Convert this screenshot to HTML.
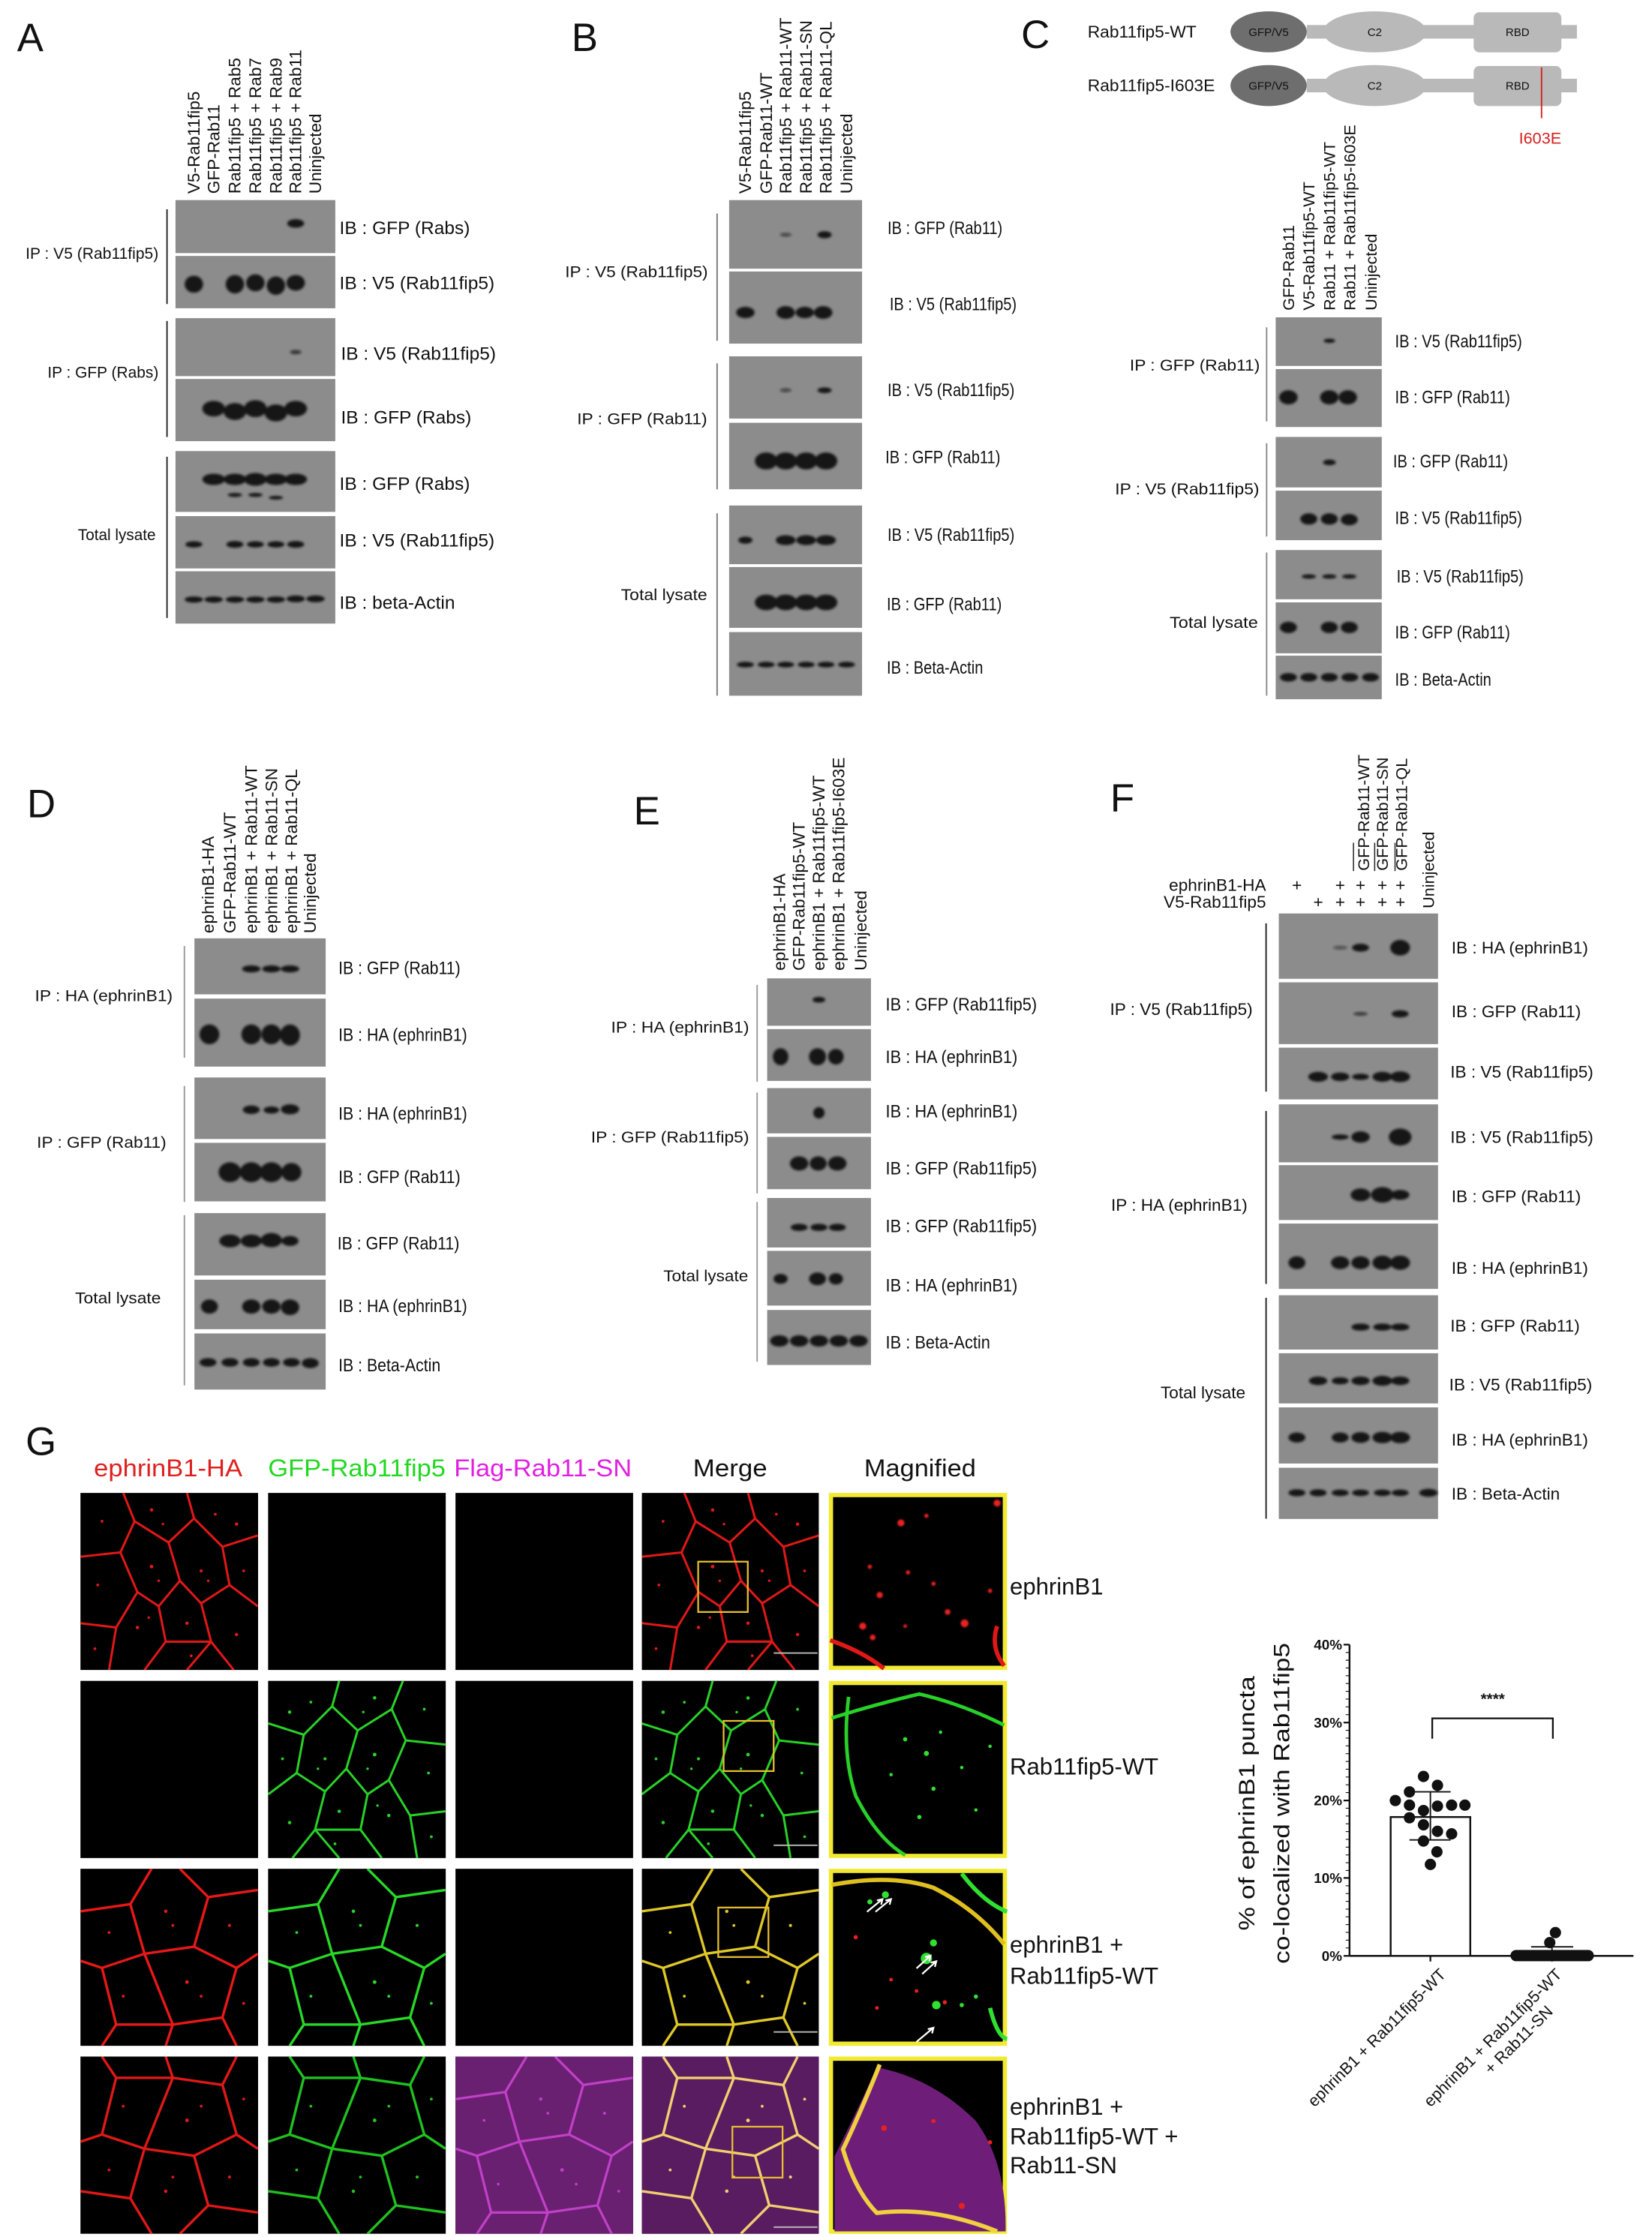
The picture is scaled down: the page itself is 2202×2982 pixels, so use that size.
<!DOCTYPE html>
<html><head><meta charset="utf-8">
<style>
html,body{margin:0;padding:0;background:#fff;}
svg{display:block;}
text{font-family:"Liberation Sans",Arial,sans-serif;fill:#111;}
.ib{font-size:13px;}
.cl{font-size:12px;}
.pl{font-size:28px;}
.bl{fill:#8c8c8c;}
.bd ellipse{fill:#141414;}
</style></head>
<body>
<svg width="2202" height="2982" viewBox="0 0 1168 1582" xmlns="http://www.w3.org/2000/svg">
<defs>
<filter id="bl1" x="-50%" y="-50%" width="200%" height="200%"><feGaussianBlur stdDeviation="0.9"/></filter>
<filter id="bl2" x="-20%" y="-20%" width="140%" height="140%"><feGaussianBlur stdDeviation="0.5"/></filter>
<symbol id="c1" viewBox="0 0 125 125" overflow="hidden">
<path fill="none" stroke="currentColor" stroke-width="1.6" stroke-linejoin="round" d="M0,45 L28,42 L38,20 L30,0 M38,20 L62,35 L80,18 L75,0 M80,18 L100,38 L125,30 M28,42 L40,70 L25,95 L0,92 M40,70 L55,80 L70,62 L62,35 M70,62 L85,78 L105,65 L100,38 M105,65 L125,80 M55,80 L60,105 L45,125 M25,95 L20,125 M85,78 L92,105 L75,125 M92,105 L108,125 M60,105 L92,105"/>
<g fill="currentColor"><circle cx="15" cy="20" r="1"/><circle cx="50" cy="12" r="1.2"/><circle cx="58" cy="22" r=".9"/><circle cx="95" cy="15" r="1"/><circle cx="110" cy="22" r="1.2"/><circle cx="12" cy="65" r="1"/><circle cx="50" cy="52" r="1.3"/><circle cx="55" cy="62" r=".9"/><circle cx="85" cy="55" r="1.1"/><circle cx="90" cy="62" r=".9"/><circle cx="115" cy="55" r="1"/><circle cx="40" cy="95" r="1.2"/><circle cx="48" cy="88" r=".9"/><circle cx="75" cy="92" r="1.2"/><circle cx="78" cy="115" r="1"/><circle cx="110" cy="100" r="1.2"/><circle cx="10" cy="110" r="1"/></g>
</symbol>
<symbol id="c2" viewBox="0 0 125 125" overflow="hidden">
<path fill="none" stroke="currentColor" stroke-width="1.8" stroke-linejoin="round" d="M0,30 L35,25 L50,0 M35,25 L45,60 L15,70 L0,65 M45,60 L80,55 L90,20 L70,0 M90,20 L125,15 M80,55 L110,70 L125,60 M110,70 L100,105 L110,125 M100,105 L65,110 L45,60 M65,110 L60,125 M15,70 L25,110 L15,125 M25,110 L65,110"/>
<g fill="currentColor"><circle cx="20" cy="45" r="1"/><circle cx="60" cy="30" r="1.2"/><circle cx="65" cy="40" r="1"/><circle cx="105" cy="40" r="1.1"/><circle cx="30" cy="90" r="1"/><circle cx="75" cy="80" r="1.3"/><circle cx="85" cy="90" r="1"/><circle cx="115" cy="95" r="1"/></g>
</symbol>
</defs>

<!-- ===== Panel A ===== -->
<text class="pl" x="12" y="36">A</text>
<g class="cl">
<text transform="translate(141,137) rotate(-90)">V5-Rab11fip5</text>
<text transform="translate(155,137) rotate(-90)">GFP-Rab11</text>
<text transform="translate(170,137) rotate(-90)">Rab11fip5 + Rab5</text>
<text transform="translate(184.5,137) rotate(-90)">Rab11fip5 + Rab7</text>
<text transform="translate(199,137) rotate(-90)">Rab11fip5 + Rab9</text>
<text transform="translate(213,137) rotate(-90)">Rab11fip5 + Rab11</text>
<text transform="translate(227,137) rotate(-90)">Uninjected</text>
</g>
<g class="bl">
<rect x="124" y="141.5" width="113" height="37.5"/><rect x="124" y="181" width="113" height="37"/>
<rect x="124" y="225" width="113" height="41"/><rect x="124" y="268" width="113" height="44"/>
<rect x="124" y="319" width="113" height="43"/><rect x="124" y="365" width="113" height="37"/>
<rect x="124" y="404" width="113" height="37"/>
</g>
<g class="bd" filter="url(#bl1)">
<ellipse cx="209" cy="158" rx="6" ry="3"/>
<ellipse cx="137" cy="201" rx="6.5" ry="6"/><ellipse cx="166" cy="201" rx="6.5" ry="6.5"/><ellipse cx="180.5" cy="200" rx="6.5" ry="6"/><ellipse cx="195" cy="202" rx="6.5" ry="6.5"/><ellipse cx="209" cy="200" rx="6.5" ry="5.5"/>
<ellipse cx="209" cy="249" rx="4" ry="1.5" opacity=".7"/>
<ellipse cx="151" cy="289" rx="8" ry="5.5"/><ellipse cx="166" cy="291" rx="8" ry="6"/><ellipse cx="180.5" cy="289" rx="8" ry="6"/><ellipse cx="195" cy="292" rx="8" ry="6"/><ellipse cx="209" cy="289" rx="8" ry="5.5"/>
<ellipse cx="151" cy="339" rx="8" ry="4"/><ellipse cx="166" cy="339" rx="8" ry="4"/><ellipse cx="180.5" cy="339" rx="8" ry="4.5"/><ellipse cx="195" cy="339" rx="8" ry="4"/><ellipse cx="209" cy="339" rx="8" ry="4"/>
<ellipse cx="166" cy="350" rx="5" ry="1.4"/><ellipse cx="180.5" cy="350" rx="5" ry="1.4"/><ellipse cx="195" cy="352" rx="5" ry="1.3"/>
<ellipse cx="137" cy="385" rx="6" ry="2.2"/><ellipse cx="166" cy="385" rx="6" ry="2.4"/><ellipse cx="180.5" cy="385" rx="6" ry="2.2"/><ellipse cx="195" cy="385" rx="6" ry="2.2"/><ellipse cx="209" cy="385" rx="6" ry="2.4"/>
<ellipse cx="137" cy="424" rx="6.5" ry="2.2"/><ellipse cx="151" cy="424" rx="6.5" ry="2.2"/><ellipse cx="166" cy="424" rx="6.5" ry="2.2"/><ellipse cx="180.5" cy="424" rx="6.5" ry="2.2"/><ellipse cx="195" cy="424" rx="6.5" ry="2.2"/><ellipse cx="209" cy="423.5" rx="6.5" ry="2.4"/><ellipse cx="223" cy="423.5" rx="6.5" ry="2.4"/>
</g>
<g class="ib">
<text x="240" y="165.5">IB : GFP (Rabs)</text>
<text x="240" y="204.5">IB : V5 (Rab11fip5)</text>
<text x="241" y="254.5">IB : V5 (Rab11fip5)</text>
<text x="241" y="299.5">IB : GFP (Rabs)</text>
<text x="240" y="346.5">IB : GFP (Rabs)</text>
<text x="240" y="386.5">IB : V5 (Rab11fip5)</text>
<text x="240" y="430.5">IB : beta-Actin</text>
</g>
<g font-size="11.5">
<text x="18" y="183" textLength="94" lengthAdjust="spacingAndGlyphs">IP : V5 (Rab11fip5)</text>
<text x="33.5" y="267" textLength="78.5" lengthAdjust="spacingAndGlyphs">IP : GFP (Rabs)</text>
<text x="55" y="382" textLength="55" lengthAdjust="spacingAndGlyphs">Total lysate</text>
</g>
<g stroke="#222" stroke-width="1"><line x1="118" y1="148" x2="118" y2="215"/><line x1="118" y1="227" x2="118" y2="309"/><line x1="118" y1="323" x2="118" y2="437"/></g>

<!-- ===== Panel B ===== -->
<text class="pl" x="404" y="36">B</text>
<g class="cl">
<text transform="translate(531,137) rotate(-90)">V5-Rab11fip5</text>
<text transform="translate(545.7,137) rotate(-90)">GFP-Rab11-WT</text>
<text transform="translate(559.5,137) rotate(-90)">Rab11fip5 + Rab11-WT</text>
<text transform="translate(574,137) rotate(-90)">Rab11fip5 + Rab11-SN</text>
<text transform="translate(588,137) rotate(-90)">Rab11fip5 + Rab11-QL</text>
<text transform="translate(602.5,137) rotate(-90)">Uninjected</text>
</g>
<g class="bl">
<rect x="515.5" y="141.5" width="94" height="48.5"/><rect x="515.5" y="192" width="94" height="51"/>
<rect x="515.5" y="252" width="94" height="44"/><rect x="515.5" y="299" width="94" height="47"/>
<rect x="515.5" y="357.5" width="94" height="41.5"/><rect x="515.5" y="401" width="94" height="43"/>
<rect x="515.5" y="447" width="94" height="45"/>
</g>
<g class="bd" filter="url(#bl1)">
<ellipse cx="555.5" cy="166" rx="4" ry="1.3" opacity=".6"/><ellipse cx="583" cy="166" rx="5" ry="2.5"/>
<ellipse cx="527" cy="221" rx="6.5" ry="4"/><ellipse cx="555.5" cy="221" rx="6.5" ry="4.5"/><ellipse cx="569" cy="221" rx="6.5" ry="4"/><ellipse cx="582" cy="221" rx="6.5" ry="4.5"/>
<ellipse cx="555.5" cy="276" rx="4" ry="1.3" opacity=".6"/><ellipse cx="583" cy="276" rx="5" ry="2"/>
<ellipse cx="541.7" cy="326" rx="8" ry="6"/><ellipse cx="555.5" cy="326" rx="8" ry="6"/><ellipse cx="570" cy="326" rx="8" ry="6"/><ellipse cx="584" cy="326" rx="8" ry="6"/>
<ellipse cx="527" cy="382" rx="5" ry="2.5"/><ellipse cx="555.5" cy="382" rx="7" ry="3.5"/><ellipse cx="570" cy="382" rx="7" ry="3.5"/><ellipse cx="584" cy="382" rx="7" ry="3.5"/>
<ellipse cx="541.7" cy="426" rx="8" ry="5.5"/><ellipse cx="555.5" cy="426" rx="8" ry="5.5"/><ellipse cx="570" cy="426" rx="8" ry="5.5"/><ellipse cx="584" cy="426" rx="8" ry="5.5"/>
<ellipse cx="527" cy="470" rx="6" ry="2"/><ellipse cx="541.7" cy="470" rx="6" ry="2"/><ellipse cx="555.5" cy="470" rx="6" ry="2"/><ellipse cx="570" cy="470" rx="6" ry="2"/><ellipse cx="584" cy="470" rx="6" ry="2"/><ellipse cx="598.5" cy="470" rx="6" ry="2"/>
</g>
<g class="ib">
<text transform="translate(627.5,165.5) scale(.82 1)">IB : GFP (Rab11)</text>
<text transform="translate(629,219.5) scale(.82 1)">IB : V5 (Rab11fip5)</text>
<text transform="translate(627.5,280) scale(.82 1)">IB : V5 (Rab11fip5)</text>
<text transform="translate(626,327.5) scale(.82 1)">IB : GFP (Rab11)</text>
<text transform="translate(627.5,382.5) scale(.82 1)">IB : V5 (Rab11fip5)</text>
<text transform="translate(627,431.5) scale(.82 1)">IB : GFP (Rab11)</text>
<text transform="translate(627,476.5) scale(.82 1)">IB : Beta-Actin</text>
</g>
<g font-size="11.5">
<text x="399.5" y="196" textLength="101" lengthAdjust="spacingAndGlyphs">IP : V5 (Rab11fip5)</text>
<text x="408" y="300" textLength="92" lengthAdjust="spacingAndGlyphs">IP : GFP (Rab11)</text>
<text x="439" y="424.5" textLength="61" lengthAdjust="spacingAndGlyphs">Total lysate</text>
</g>
<g stroke="#777" stroke-width="1"><line x1="507" y1="151" x2="507" y2="241"/><line x1="507" y1="257" x2="507" y2="346"/><line x1="507" y1="363" x2="507" y2="492"/></g>

<!-- ===== Panel C ===== -->
<text class="pl" x="722" y="34">C</text>
<g font-size="12">
<text x="769" y="26.5" textLength="77" lengthAdjust="spacingAndGlyphs">Rab11fip5-WT</text>
<text x="769" y="64.5" textLength="90" lengthAdjust="spacingAndGlyphs">Rab11fip5-I603E</text>
</g>
<rect x="924" y="17.7" width="191" height="9.6" fill="#b9b9b9"/>
<rect x="1042" y="8.7" width="62" height="28.3" rx="4" fill="#b9b9b9"/>
<ellipse cx="972" cy="22.5" rx="36.5" ry="14.5" fill="#b9b9b9"/>
<ellipse cx="897" cy="22.5" rx="27" ry="14.5" fill="#6e6e6e"/>
<rect x="924" y="55.7" width="191" height="9.6" fill="#b9b9b9"/>
<rect x="1042" y="46.7" width="62" height="28.3" rx="4" fill="#b9b9b9"/>
<ellipse cx="972" cy="60.5" rx="36.5" ry="14.5" fill="#b9b9b9"/>
<ellipse cx="897" cy="60.5" rx="27" ry="14.5" fill="#6e6e6e"/>
<g font-size="8" text-anchor="middle" fill="#222">
<text x="897" y="25.5">GFP/V5</text><text x="972" y="25.5">C2</text><text x="1073" y="25.5">RBD</text>
<text x="897" y="63.5">GFP/V5</text><text x="972" y="63.5">C2</text><text x="1073" y="63.5">RBD</text>
</g>
<line x1="1090" y1="47.6" x2="1090" y2="83.6" stroke="#d42020" stroke-width="1"/>
<text x="1074" y="101.5" font-size="11.5" style="fill:#d42020" textLength="30" lengthAdjust="spacingAndGlyphs">I603E</text>
<g font-size="11.5">
<text transform="translate(915,219.6) rotate(-90)">GFP-Rab11</text>
<text transform="translate(929.4,219.6) rotate(-90)">V5-Rab11fip5-WT</text>
<text transform="translate(943.9,219.6) rotate(-90)">Rab11 + Rab11fip5-WT</text>
<text transform="translate(958.4,219.6) rotate(-90)">Rab11 + Rab11fip5-I603E</text>
<text transform="translate(973.3,219.6) rotate(-90)">Uninjected</text>
</g>
<g class="bl">
<rect x="902" y="224.4" width="75" height="34.4"/><rect x="902" y="261" width="75" height="41"/>
<rect x="902" y="309" width="75" height="35.7"/><rect x="902" y="347" width="75" height="35"/>
<rect x="902" y="389" width="75" height="34.8"/><rect x="902" y="426" width="75" height="36"/>
<rect x="902" y="463.7" width="75" height="30.8"/>
</g>
<g class="bd" filter="url(#bl1)">
<ellipse cx="940" cy="241" rx="4" ry="1.5"/>
<ellipse cx="911" cy="281" rx="6.5" ry="5"/><ellipse cx="939.9" cy="281" rx="6.5" ry="5"/><ellipse cx="953" cy="281" rx="6.5" ry="5"/>
<ellipse cx="940" cy="327" rx="4.5" ry="2"/>
<ellipse cx="925.4" cy="367" rx="6" ry="4"/><ellipse cx="939.9" cy="367" rx="6" ry="4"/><ellipse cx="954" cy="367.5" rx="6" ry="4"/>
<ellipse cx="925.4" cy="407.7" rx="5" ry="1.5"/><ellipse cx="939.9" cy="407.7" rx="5" ry="1.5"/><ellipse cx="954" cy="407.7" rx="5" ry="1.5"/>
<ellipse cx="911" cy="443.7" rx="6" ry="4"/><ellipse cx="939.9" cy="443.7" rx="6" ry="4"/><ellipse cx="954" cy="443.7" rx="6" ry="4"/>
<ellipse cx="911" cy="479" rx="6" ry="3"/><ellipse cx="925.4" cy="479" rx="6" ry="3"/><ellipse cx="939.9" cy="479" rx="6" ry="3"/><ellipse cx="954.4" cy="479" rx="6" ry="3"/><ellipse cx="969" cy="479" rx="6" ry="3"/>
</g>
<g class="ib">
<text transform="translate(986.4,245.5) scale(.82 1)">IB : V5 (Rab11fip5)</text>
<text transform="translate(986.4,285.2) scale(.82 1)">IB : GFP (Rab11)</text>
<text transform="translate(985,330.5) scale(.82 1)">IB : GFP (Rab11)</text>
<text transform="translate(986.4,370.5) scale(.82 1)">IB : V5 (Rab11fip5)</text>
<text transform="translate(987.5,412) scale(.82 1)">IB : V5 (Rab11fip5)</text>
<text transform="translate(986.4,451.5) scale(.82 1)">IB : GFP (Rab11)</text>
<text transform="translate(986.4,485) scale(.82 1)">IB : Beta-Actin</text>
</g>
<g font-size="11.5">
<text x="798.8" y="262" textLength="92" lengthAdjust="spacingAndGlyphs">IP : GFP (Rab11)</text>
<text x="788.4" y="349.7" textLength="102" lengthAdjust="spacingAndGlyphs">IP : V5 (Rab11fip5)</text>
<text x="827" y="444" textLength="62.5" lengthAdjust="spacingAndGlyphs">Total lysate</text>
</g>
<g stroke="#888" stroke-width="1"><line x1="895.6" y1="231.5" x2="895.6" y2="298"/><line x1="895.6" y1="313.5" x2="895.6" y2="379.4"/><line x1="895.6" y1="390.7" x2="895.6" y2="492"/></g>

<!-- ===== Panel D ===== -->
<text class="pl" x="19" y="578">D</text>
<g class="cl">
<text transform="translate(151,660) rotate(-90)">ephrinB1-HA</text>
<text transform="translate(166.5,660) rotate(-90)">GFP-Rab11-WT</text>
<text transform="translate(181.6,660) rotate(-90)">ephrinB1 + Rab11-WT</text>
<text transform="translate(195.8,660) rotate(-90)">ephrinB1 + Rab11-SN</text>
<text transform="translate(210,660) rotate(-90)">ephrinB1 + Rab11-QL</text>
<text transform="translate(223.3,660) rotate(-90)">Uninjected</text>
</g>
<g class="bl">
<rect x="137.4" y="663.6" width="92.8" height="39.6"/><rect x="137.4" y="706.2" width="92.8" height="48.1"/>
<rect x="137.4" y="762" width="92.8" height="43.5"/><rect x="137.4" y="808.2" width="92.8" height="41.4"/>
<rect x="137.4" y="857.9" width="92.8" height="44.1"/><rect x="137.4" y="905" width="92.8" height="35"/>
<rect x="137.4" y="943" width="92.8" height="39.7"/>
</g>
<g class="bd" filter="url(#bl1)">
<ellipse cx="177.6" cy="685.2" rx="6.5" ry="2.5"/><ellipse cx="191.8" cy="685.2" rx="6.5" ry="2.5"/><ellipse cx="205" cy="685.2" rx="6.5" ry="2.5"/>
<ellipse cx="148" cy="731.5" rx="7" ry="7"/><ellipse cx="177.6" cy="731.5" rx="7" ry="7"/><ellipse cx="191.8" cy="731.5" rx="7" ry="7"/><ellipse cx="205" cy="732" rx="7" ry="7.5"/>
<ellipse cx="177.6" cy="784.8" rx="6" ry="3"/><ellipse cx="191.8" cy="785" rx="5.5" ry="2.5"/><ellipse cx="205" cy="784.5" rx="6.5" ry="3.5"/>
<ellipse cx="162.5" cy="829" rx="8" ry="7"/><ellipse cx="177.6" cy="829" rx="8" ry="7"/><ellipse cx="191.8" cy="829" rx="8" ry="7"/><ellipse cx="206" cy="829" rx="7" ry="6.5"/>
<ellipse cx="162.5" cy="877.6" rx="7.5" ry="4.5"/><ellipse cx="177.6" cy="877.6" rx="7.5" ry="4.5"/><ellipse cx="191.8" cy="877" rx="7.5" ry="5"/><ellipse cx="205" cy="877.6" rx="6" ry="3.5"/>
<ellipse cx="148" cy="924" rx="6" ry="5"/><ellipse cx="177.6" cy="924" rx="6.5" ry="5"/><ellipse cx="191.8" cy="924" rx="6.5" ry="5"/><ellipse cx="205" cy="924.5" rx="6.5" ry="5.5"/>
<ellipse cx="147" cy="963.5" rx="6" ry="3"/><ellipse cx="162.5" cy="963.5" rx="6" ry="3"/><ellipse cx="177.6" cy="963.5" rx="6" ry="3"/><ellipse cx="191.8" cy="963.5" rx="6" ry="3"/><ellipse cx="206" cy="963.5" rx="6" ry="3"/><ellipse cx="219.3" cy="964" rx="6" ry="3.5"/>
</g>
<g class="ib">
<text transform="translate(239.2,688.8) scale(.87 1)">IB : GFP (Rab11)</text>
<text transform="translate(239.2,736) scale(.87 1)">IB : HA (ephrinB1)</text>
<text transform="translate(239.2,791.7) scale(.87 1)">IB : HA (ephrinB1)</text>
<text transform="translate(239.2,836.5) scale(.87 1)">IB : GFP (Rab11)</text>
<text transform="translate(238.5,883.7) scale(.87 1)">IB : GFP (Rab11)</text>
<text transform="translate(239.2,927.8) scale(.87 1)">IB : HA (ephrinB1)</text>
<text transform="translate(239.2,969.8) scale(.87 1)">IB : Beta-Actin</text>
</g>
<g font-size="11.5">
<text x="24.6" y="708" textLength="97.4" lengthAdjust="spacingAndGlyphs">IP : HA (ephrinB1)</text>
<text x="26" y="811.6" textLength="91.5" lengthAdjust="spacingAndGlyphs">IP : GFP (Rab11)</text>
<text x="53" y="921.8" textLength="60.7" lengthAdjust="spacingAndGlyphs">Total lysate</text>
</g>
<g stroke="#999" stroke-width="1"><line x1="130.3" y1="669" x2="130.3" y2="748"/><line x1="130.3" y1="768" x2="130.3" y2="850"/><line x1="130.3" y1="859.4" x2="130.3" y2="979.7"/></g>

<!-- ===== Panel E ===== -->
<text class="pl" x="448" y="583">E</text>
<g class="cl">
<text transform="translate(555,686.4) rotate(-90)">ephrinB1-HA</text>
<text transform="translate(569,686.4) rotate(-90)">GFP-Rab11fip5-WT</text>
<text transform="translate(583,686.4) rotate(-90)">ephrinB1 + Rab11fip5-WT</text>
<text transform="translate(597,686.4) rotate(-90)">ephrinB1 + Rab11fip5-I603E</text>
<text transform="translate(612.7,686.4) rotate(-90)">Uninjected</text>
</g>
<g class="bl">
<rect x="542.4" y="691.9" width="73.4" height="33.5"/><rect x="542.4" y="727.8" width="73.4" height="36.6"/>
<rect x="542.4" y="769.5" width="73.4" height="32"/><rect x="542.4" y="804" width="73.4" height="37"/>
<rect x="542.4" y="847.2" width="73.4" height="35"/><rect x="542.4" y="884.6" width="73.4" height="38.7"/>
<rect x="542.4" y="926.4" width="73.4" height="38.9"/>
</g>
<g class="bd" filter="url(#bl1)">
<ellipse cx="579" cy="707" rx="4.5" ry="2"/>
<ellipse cx="551.9" cy="747.3" rx="5.5" ry="6"/><ellipse cx="578" cy="747.3" rx="6" ry="6"/><ellipse cx="591" cy="747.3" rx="5.5" ry="5.5"/>
<ellipse cx="579" cy="787" rx="4" ry="4"/>
<ellipse cx="565" cy="822.8" rx="6.5" ry="5"/><ellipse cx="578.5" cy="822.8" rx="6" ry="5"/><ellipse cx="592" cy="822.8" rx="6.5" ry="5"/>
<ellipse cx="565" cy="868" rx="6" ry="2.5"/><ellipse cx="579" cy="868" rx="6" ry="2.5"/><ellipse cx="592" cy="868" rx="6" ry="2.5"/>
<ellipse cx="551.9" cy="904.4" rx="5" ry="3.5"/><ellipse cx="578" cy="904.4" rx="6" ry="4.5"/><ellipse cx="591" cy="904.4" rx="5" ry="4"/>
<ellipse cx="551" cy="948.3" rx="6.5" ry="4"/><ellipse cx="565" cy="948.3" rx="6.5" ry="4"/><ellipse cx="579" cy="948.3" rx="6.5" ry="4"/><ellipse cx="593" cy="948.3" rx="6.5" ry="4"/><ellipse cx="607" cy="948.3" rx="6.5" ry="4"/>
</g>
<g class="ib">
<text transform="translate(626.2,714.7) scale(.89 1)">IB : GFP (Rab11fip5)</text>
<text transform="translate(626.2,751.8) scale(.89 1)">IB : HA (ephrinB1)</text>
<text transform="translate(626.2,790.2) scale(.89 1)">IB : HA (ephrinB1)</text>
<text transform="translate(626.2,830.4) scale(.89 1)">IB : GFP (Rab11fip5)</text>
<text transform="translate(626.2,871.5) scale(.89 1)">IB : GFP (Rab11fip5)</text>
<text transform="translate(626.2,913.2) scale(.89 1)">IB : HA (ephrinB1)</text>
<text transform="translate(626.2,953.7) scale(.89 1)">IB : Beta-Actin</text>
</g>
<g font-size="11.5">
<text x="432" y="730.3" textLength="97.6" lengthAdjust="spacingAndGlyphs">IP : HA (ephrinB1)</text>
<text x="417.8" y="808" textLength="111.8" lengthAdjust="spacingAndGlyphs">IP : GFP (Rab11fip5)</text>
<text x="469" y="906" textLength="60" lengthAdjust="spacingAndGlyphs">Total lysate</text>
</g>
<g stroke="#999" stroke-width="1"><line x1="535.3" y1="696.5" x2="535.3" y2="765"/><line x1="535.3" y1="772.6" x2="535.3" y2="844"/><line x1="535.3" y1="850" x2="535.3" y2="963"/></g>

<!-- ===== Panel F ===== -->
<text class="pl" x="785" y="574">F</text>
<g font-size="12" text-anchor="end">
<text x="895.2" y="630">ephrinB1-HA</text>
<text x="895.2" y="642">V5-Rab11fip5</text>
</g>
<g font-size="12" text-anchor="middle">
<text x="917" y="630">+</text><text x="947.6" y="630">+</text><text x="962" y="630">+</text><text x="977.4" y="630">+</text><text x="990.2" y="630">+</text>
<text x="932.1" y="642">+</text><text x="947.6" y="642">+</text><text x="962" y="642">+</text><text x="977.4" y="642">+</text><text x="990.2" y="642">+</text>
</g>
<g font-size="11.5">
<text transform="translate(968,615.8) rotate(-90)">GFP-Rab11-WT</text>
<text transform="translate(981.4,615.8) rotate(-90)">GFP-Rab11-SN</text>
<text transform="translate(995,615.8) rotate(-90)">GFP-Rab11-QL</text>
<text transform="translate(1014,642.4) rotate(-90)">Uninjected</text>
</g>
<g stroke="#222" stroke-width=".8"><line x1="957" y1="596" x2="957" y2="616"/><line x1="972" y1="596" x2="972" y2="616"/><line x1="986.4" y1="596" x2="986.4" y2="616"/></g>
<g class="bl">
<rect x="904.2" y="646" width="112.6" height="46.2"/><rect x="904.2" y="694.7" width="112.6" height="43.7"/>
<rect x="904.2" y="740.9" width="112.6" height="36.6"/><rect x="904.2" y="781" width="112.6" height="41"/>
<rect x="904.2" y="824" width="112.6" height="38.8"/><rect x="904.2" y="865.3" width="112.6" height="46.2"/>
<rect x="904.2" y="916" width="112.6" height="38.4"/><rect x="904.2" y="957" width="112.6" height="35.5"/>
<rect x="904.2" y="995.3" width="112.6" height="39.7"/><rect x="904.2" y="1038" width="112.6" height="36.2"/>
</g>
<g class="bd" filter="url(#bl1)">
<ellipse cx="947.6" cy="670.2" rx="5" ry="1.3" opacity=".5"/><ellipse cx="962" cy="670.2" rx="6" ry="2.8"/><ellipse cx="990" cy="670.2" rx="7" ry="5.5"/>
<ellipse cx="962" cy="717" rx="5" ry="1.2" opacity=".7"/><ellipse cx="990" cy="717" rx="6" ry="2.5"/>
<ellipse cx="932" cy="761.5" rx="7" ry="3.5"/><ellipse cx="947.6" cy="761.5" rx="6.5" ry="3"/><ellipse cx="962" cy="761.5" rx="6" ry="2.2"/><ellipse cx="977.4" cy="761.5" rx="7" ry="3.5"/><ellipse cx="990" cy="761.5" rx="7" ry="3.8"/>
<ellipse cx="947.6" cy="804.1" rx="6" ry="1.8"/><ellipse cx="962" cy="804.1" rx="6.5" ry="4"/><ellipse cx="990" cy="804.1" rx="8" ry="6"/>
<ellipse cx="962" cy="845" rx="7" ry="4.5"/><ellipse cx="977.4" cy="845" rx="8" ry="5.5"/><ellipse cx="990" cy="845" rx="6.5" ry="3.5"/>
<ellipse cx="917" cy="893" rx="6" ry="4.5"/><ellipse cx="947.6" cy="893" rx="6.5" ry="4.5"/><ellipse cx="962" cy="893" rx="6.5" ry="4.5"/><ellipse cx="977.4" cy="893" rx="7" ry="5"/><ellipse cx="990" cy="893" rx="7" ry="5"/>
<ellipse cx="962" cy="938.5" rx="6.5" ry="2.5"/><ellipse cx="977.4" cy="938.5" rx="6.5" ry="2.5"/><ellipse cx="990" cy="938.5" rx="6.5" ry="2.5"/>
<ellipse cx="932" cy="976.5" rx="6.5" ry="3"/><ellipse cx="947.6" cy="976.5" rx="6" ry="2.5"/><ellipse cx="962" cy="976.5" rx="6.5" ry="3"/><ellipse cx="977.4" cy="976.5" rx="7" ry="3.5"/><ellipse cx="990" cy="976.5" rx="6.5" ry="3"/>
<ellipse cx="917" cy="1016.6" rx="6" ry="3.5"/><ellipse cx="947.6" cy="1016.6" rx="6" ry="3.5"/><ellipse cx="962" cy="1016.6" rx="6.5" ry="3.8"/><ellipse cx="977.4" cy="1016.6" rx="7" ry="4"/><ellipse cx="990" cy="1016.6" rx="7" ry="4"/>
<ellipse cx="917" cy="1055.7" rx="6" ry="2.5"/><ellipse cx="932" cy="1055.7" rx="6" ry="2.5"/><ellipse cx="947.6" cy="1055.7" rx="6" ry="2.3"/><ellipse cx="962" cy="1055.7" rx="6" ry="2.3"/><ellipse cx="977.4" cy="1055.7" rx="6" ry="2.3"/><ellipse cx="990" cy="1055.7" rx="6" ry="2.3"/><ellipse cx="1010" cy="1055.7" rx="6.5" ry="2.8"/>
</g>
<g font-size="12">
<text x="1026.3" y="674.4">IB : HA (ephrinB1)</text>
<text x="1026.3" y="719.5">IB : GFP (Rab11)</text>
<text x="1025.5" y="762.2">IB : V5 (Rab11fip5)</text>
<text x="1025.5" y="808.3">IB : V5 (Rab11fip5)</text>
<text x="1026.3" y="850.2">IB : GFP (Rab11)</text>
<text x="1026.3" y="900.7">IB : HA (ephrinB1)</text>
<text x="1025.5" y="941.6">IB : GFP (Rab11)</text>
<text x="1024.7" y="983.2">IB : V5 (Rab11fip5)</text>
<text x="1026.3" y="1022.2">IB : HA (ephrinB1)</text>
<text x="1026.3" y="1060.6">IB : Beta-Actin</text>
<text x="784.8" y="717.7">IP : V5 (Rab11fip5)</text>
<text x="785.6" y="856.2">IP : HA (ephrinB1)</text>
<text x="820.6" y="988.8">Total lysate</text>
</g>
<g stroke="#222" stroke-width="1"><line x1="895.2" y1="653" x2="895.2" y2="772"/><line x1="895.2" y1="785.7" x2="895.2" y2="908"/><line x1="895.2" y1="917.8" x2="895.2" y2="1074"/></g>

<!-- ===== Panel G ===== -->
<text class="pl" x="18" y="1029">G</text>
<g font-size="17">
<text x="66.3" y="1044" style="fill:#e02020" textLength="105" lengthAdjust="spacingAndGlyphs">ephrinB1-HA</text>
<text x="189.5" y="1044" style="fill:#22d822" textLength="125.5" lengthAdjust="spacingAndGlyphs">GFP-Rab11fip5</text>
<text x="321" y="1044" style="fill:#e020e0" textLength="125.7" lengthAdjust="spacingAndGlyphs">Flag-Rab11-SN</text>
<text x="490" y="1044" textLength="52.4" lengthAdjust="spacingAndGlyphs">Merge</text>
<text x="611" y="1044" textLength="79" lengthAdjust="spacingAndGlyphs">Magnified</text>
</g>
<!-- tile backgrounds -->
<g fill="#000">
<rect x="56.8" y="1055.8" width="125.6" height="125.2"/><rect x="189.5" y="1055.8" width="125.6" height="125.2"/><rect x="322" y="1055.8" width="125.6" height="125.2"/><rect x="453.8" y="1055.8" width="125.1" height="125.2"/>
<rect x="56.8" y="1188.7" width="125.6" height="125.3"/><rect x="189.5" y="1188.7" width="125.6" height="125.3"/><rect x="322" y="1188.7" width="125.6" height="125.3"/><rect x="453.8" y="1188.7" width="125.1" height="125.3"/>
<rect x="56.8" y="1321.6" width="125.6" height="125.2"/><rect x="189.5" y="1321.6" width="125.6" height="125.2"/><rect x="322" y="1321.6" width="125.6" height="125.2"/><rect x="453.8" y="1321.6" width="125.1" height="125.2"/>
<rect x="56.8" y="1454.4" width="125.6" height="125.3"/><rect x="189.5" y="1454.4" width="125.6" height="125.3"/><rect x="322" y="1454.4" width="125.6" height="125.3"/><rect x="453.8" y="1454.4" width="125.1" height="125.3"/>
</g>
<!-- row4 magenta fills -->
<rect x="322" y="1454.4" width="125.6" height="125.3" fill="#6a2070"/>
<use href="#c2" x="322" y="1454.4" width="125.6" height="125.3" style="color:#100010"/>
<rect x="453.8" y="1454.4" width="125.1" height="125.3" fill="#5a1c60"/>
<!-- cells -->
<use href="#c1" x="56.8" y="1055.8" width="125.6" height="125.2" style="color:#e01818"/>
<use href="#c1" x="453.8" y="1055.8" width="125.1" height="125.2" style="color:#e01818"/>
<g transform="translate(315.1,1188.7) scale(-1,1)"><use href="#c1" x="0" y="0" width="125.6" height="125.3" style="color:#28d028"/></g>
<g transform="translate(578.9,1188.7) scale(-1,1)"><use href="#c1" x="0" y="0" width="125.1" height="125.3" style="color:#28d028"/></g>
<use href="#c2" x="56.8" y="1321.6" width="125.6" height="125.2" style="color:#e81818"/>
<use href="#c2" x="189.5" y="1321.6" width="125.6" height="125.2" style="color:#28d828"/>
<use href="#c2" x="453.8" y="1321.6" width="125.1" height="125.2" style="color:#e0c828"/>
<g transform="translate(56.8,1579.7) scale(1,-1)"><use href="#c2" x="0" y="0" width="125.6" height="125.3" style="color:#e01818"/></g>
<g transform="translate(189.5,1579.7) scale(1,-1)"><use href="#c2" x="0" y="0" width="125.6" height="125.3" style="color:#20c020"/></g>
<use href="#c2" x="322" y="1454.4" width="125.6" height="125.3" style="color:#c040c8"/>
<g transform="translate(453.8,1579.7) scale(1,-1)"><use href="#c2" x="0" y="0" width="125.1" height="125.3" style="color:#f0d070"/></g>
<!-- merge boxes & scale bars -->
<g fill="none" stroke="#e8c030" stroke-width="1.2">
<rect x="493.6" y="1104.4" width="35.1" height="35.6"/><rect x="511.6" y="1217" width="35.4" height="35.5"/>
<rect x="507.8" y="1349" width="35.5" height="35"/><rect x="517.8" y="1504" width="35.5" height="36"/>
</g>
<g stroke="#bbb" stroke-width="1"><line x1="547" y1="1169" x2="578" y2="1169"/><line x1="547" y1="1305" x2="578" y2="1305"/><line x1="547" y1="1437" x2="578" y2="1437"/><line x1="547" y1="1575" x2="578" y2="1575"/></g>
<!-- magnified -->
<g>
<rect x="587.5" y="1057.3" width="123" height="122.2" fill="#000" stroke="#f2ea30" stroke-width="3"/>
<path d="M587,1160 Q610,1168 625,1180 M705,1150 Q700,1165 710,1178" stroke="#e01818" stroke-width="3" fill="none"/>
<g fill="#e82020" filter="url(#bl2)"><circle cx="637" cy="1077" r="2.5"/><circle cx="655" cy="1072" r="1.5"/><circle cx="705" cy="1063" r="2.5"/><circle cx="615" cy="1108" r="1.5"/><circle cx="622" cy="1128" r="2.2"/><circle cx="642" cy="1112" r="1.5"/><circle cx="660" cy="1120" r="1.5"/><circle cx="670" cy="1140" r="2"/><circle cx="682" cy="1148" r="2.8"/><circle cx="610" cy="1150" r="2.5"/><circle cx="617" cy="1158" r="2"/><circle cx="700" cy="1125" r="1.5"/><circle cx="640" cy="1150" r="1.3"/></g>
<rect x="587.5" y="1190.2" width="123" height="122.3" fill="#000" stroke="#f2ea30" stroke-width="3"/>
<path d="M588,1215 Q620,1205 650,1198 Q680,1205 710,1220 M600,1200 Q595,1240 605,1270 Q620,1300 640,1312" stroke="#28d028" stroke-width="2.5" fill="none"/>
<g fill="#30e030"><circle cx="640" cy="1230" r="1.5"/><circle cx="655" cy="1240" r="1.8"/><circle cx="665" cy="1225" r="1.2"/><circle cx="630" cy="1255" r="1.2"/><circle cx="660" cy="1265" r="1.5"/><circle cx="680" cy="1250" r="1.2"/><circle cx="650" cy="1285" r="1.5"/><circle cx="690" cy="1280" r="1.2"/><circle cx="700" cy="1235" r="1.2"/></g>
<rect x="587.5" y="1323.1" width="123" height="122.2" fill="#000" stroke="#f2ea30" stroke-width="3"/>
<path d="M588,1333 Q630,1325 660,1335 Q690,1350 710,1375" stroke="#e0c020" stroke-width="3" fill="none"/>
<path d="M680,1325 Q695,1345 712,1352 M700,1420 Q705,1440 712,1442" stroke="#30e030" stroke-width="3" fill="none"/>
<g fill="#30e030"><circle cx="626" cy="1340" r="2.5"/><circle cx="615" cy="1345" r="1.8"/><circle cx="660" cy="1374" r="2.5"/><circle cx="655" cy="1385" r="4"/><circle cx="662" cy="1418" r="3"/><circle cx="680" cy="1418" r="1.5"/><circle cx="690" cy="1412" r="1.5"/></g>
<g fill="#e82020"><circle cx="605" cy="1370" r="1.5"/><circle cx="630" cy="1400" r="1.3"/><circle cx="648" cy="1408" r="1.3"/><circle cx="668" cy="1416" r="1.5"/><circle cx="620" cy="1420" r="1.3"/></g>
<g stroke="#fff" stroke-width="1.2" fill="none"><path d="M613,1352 L624,1343 M620,1344 L624,1343 L623,1347 M619,1352 L630,1343 M626,1344 L630,1343 L629,1347 M648,1392 L658,1383 M654,1384 L658,1383 L657,1387 M652,1396 L662,1387 M658,1388 L662,1387 L661,1391 M648,1444 L660,1434 M656,1435 L660,1434 L659,1438"/></g>
<rect x="587.5" y="1455.9" width="123" height="122.3" fill="#000" stroke="#f2ea30" stroke-width="3"/>
<path d="M620,1462 Q660,1470 690,1500 Q712,1530 711,1578 L711,1578 L590,1578 L590,1525 Q605,1495 620,1462 Z" fill="#6e1e78"/>
<path d="M622,1460 Q608,1495 596,1520 Q605,1550 620,1565 Q660,1560 705,1578" stroke="#f0d040" stroke-width="3" fill="none"/>
<g fill="#e82020"><circle cx="625" cy="1505" r="2"/><circle cx="660" cy="1500" r="1.5"/><circle cx="680" cy="1560" r="2.2"/><circle cx="700" cy="1515" r="1.5"/></g>
</g>
<g font-size="16.5">
<text x="714" y="1127.5">ephrinB1</text>
<text x="714" y="1255">Rab11fip5-WT</text>
<text x="714" y="1381">ephrinB1 +</text>
<text x="714" y="1403">Rab11fip5-WT</text>
<text x="714" y="1495.5">ephrinB1 +</text>
<text x="714" y="1516.5">Rab11fip5-WT +</text>
<text x="714" y="1537">Rab11-SN</text>
</g>

<!-- ===== Graph ===== -->
<g stroke="#111" stroke-width="1.3" fill="none">
<line x1="954.2" y1="1163.1" x2="954.2" y2="1383.2"/>
<line x1="954.2" y1="1383.2" x2="1155" y2="1383.2"/>
</g>
<g stroke="#111" stroke-width=".6">
<path d="M951.5,1168.6h2.7M951.5,1174.1h2.7M951.5,1179.6h2.7M951.5,1185.1h2.7M951.5,1190.6h2.7M951.5,1196.1h2.7M951.5,1201.6h2.7M951.5,1207.1h2.7M951.5,1212.6h2.7M951.5,1223.7h2.7M951.5,1229.2h2.7M951.5,1234.7h2.7M951.5,1240.2h2.7M951.5,1245.7h2.7M951.5,1251.2h2.7M951.5,1256.7h2.7M951.5,1262.2h2.7M951.5,1267.7h2.7M951.5,1278.8h2.7M951.5,1284.3h2.7M951.5,1289.8h2.7M951.5,1295.3h2.7M951.5,1300.8h2.7M951.5,1306.3h2.7M951.5,1311.8h2.7M951.5,1317.3h2.7M951.5,1322.8h2.7M951.5,1333.6h2.7M951.5,1339.1h2.7M951.5,1344.6h2.7M951.5,1350.1h2.7M951.5,1355.6h2.7M951.5,1361.1h2.7M951.5,1366.6h2.7M951.5,1372.1h2.7M951.5,1377.6h2.7"/>
</g>
<g stroke="#111" stroke-width="1.2"><path d="M950,1163.1h4.2M950,1218.2h4.2M950,1273.3h4.2M950,1328.1h4.2M950,1383.2h4.2M1011.4,1383.2v4M1097.4,1383.2v4"/></g>
<g font-size="10" font-weight="bold" text-anchor="end">
<text x="949" y="1166.6">40%</text><text x="949" y="1221.7">30%</text><text x="949" y="1276.8">20%</text><text x="949" y="1331.6">10%</text><text x="949" y="1386.7">0%</text>
</g>
<rect x="983.3" y="1285" width="56.3" height="98.2" fill="#fff" stroke="#111" stroke-width="1.3"/>
<g stroke="#111" stroke-width="1"><path d="M1011.4,1267.2V1301.2M996.6,1267.2H1025.7M996.6,1301.2H1025.7M1082.6,1376.8H1112.4M1097.4,1376.8V1383"/></g>
<g fill="#111">
<circle cx="1006.5" cy="1256.3" r="4"/><circle cx="1016.4" cy="1262.6" r="4"/><circle cx="996.6" cy="1267.2" r="4"/><circle cx="986.6" cy="1273.3" r="4"/><circle cx="996.6" cy="1276.6" r="4"/><circle cx="1006.5" cy="1280.4" r="4"/><circle cx="1016.4" cy="1277.3" r="4"/><circle cx="1026.4" cy="1276.6" r="4"/><circle cx="1035.8" cy="1276.6" r="4"/><circle cx="996.6" cy="1285.5" r="4"/><circle cx="1006.5" cy="1290.5" r="4"/><circle cx="1016.4" cy="1295.1" r="4"/><circle cx="1026.4" cy="1296.9" r="4"/><circle cx="1006.5" cy="1302" r="4"/><circle cx="1016" cy="1309.6" r="4"/><circle cx="1011.4" cy="1318.5" r="4"/>
<rect x="1068" y="1379" width="59" height="8" rx="4"/>
<circle cx="1095.8" cy="1373.8" r="4"/><circle cx="1099.8" cy="1366.7" r="4"/>
</g>
<path d="M1012.7,1229.6V1215.2H1098V1229.6" stroke="#111" stroke-width="1.2" fill="none"/>
<text x="1055.5" y="1205" font-size="11" font-weight="bold" text-anchor="middle">****</text>
<g font-size="15.5" text-anchor="middle">
<text transform="translate(887,1275.3) rotate(-90)" textLength="180" lengthAdjust="spacingAndGlyphs">% of ephrinB1 puncta</text>
<text transform="translate(911.5,1275.3) rotate(-90)" textLength="227" lengthAdjust="spacingAndGlyphs">co-localized with Rab11fip5</text>
</g>
<g font-size="11.5" text-anchor="end">
<g transform="translate(1023,1397) rotate(-45)"><text x="0" y="0">ephrinB1 + Rab11fip5-WT</text></g>
<g transform="translate(1105,1397) rotate(-45)"><text x="0" y="0">ephrinB1 + Rab11fip5-WT</text><text x="-23" y="14">+ Rab11-SN</text></g>
</g>
</svg>
</body></html>
